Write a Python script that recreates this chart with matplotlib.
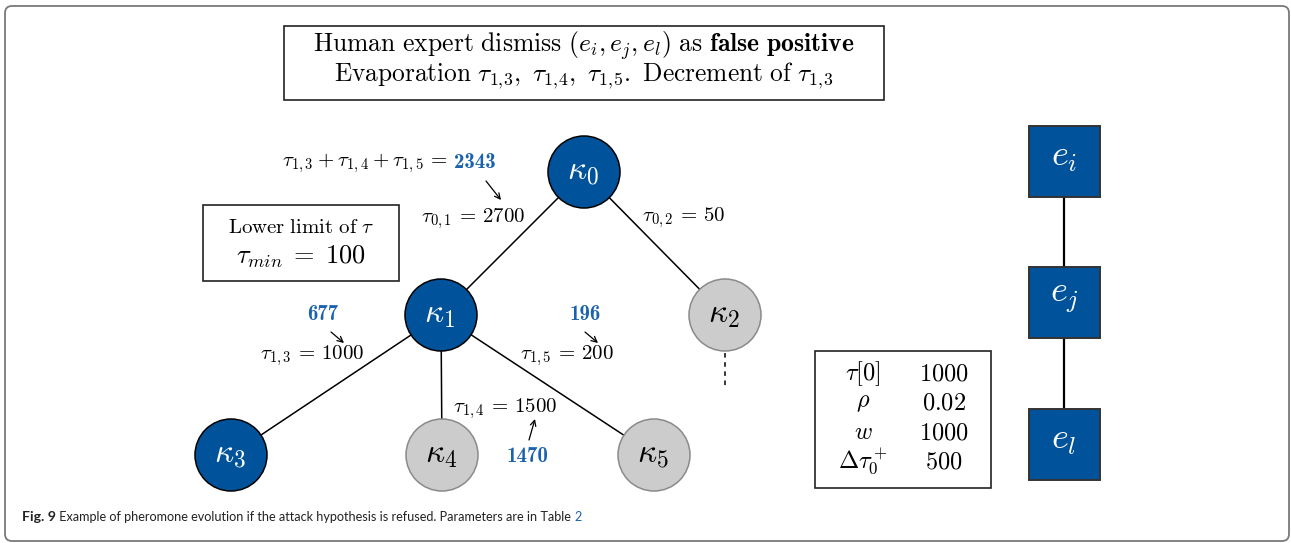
import matplotlib
matplotlib.use("Agg")
import matplotlib.pyplot as plt
from matplotlib.patches import Circle, Rectangle, FancyBboxPatch

plt.rcParams['mathtext.fontset'] = 'cm'
plt.rcParams['font.family'] = 'serif'
plt.rcParams['font.serif'] = ['cmr10', 'DejaVu Serif']

BLUE = '#00539B'
BLUE_TXT = '#1A62AE'
GRAY = '#CCCCCC'

# ---- data ----
node_names = ['k0', 'k1', 'k2', 'k3', 'k4', 'k5']
node_labels = [r'$\kappa_0$', r'$\kappa_1$', r'$\kappa_2$', r'$\kappa_3$', r'$\kappa_4$', r'$\kappa_5$']
node_active = [True, True, False, True, False, False]
edges = [('k0', 'k1'), ('k0', 'k2'), ('k1', 'k3'), ('k1', 'k4'), ('k1', 'k5')]
edge_names = [r'\tau_{0,1}', r'\tau_{0,2}', r'\tau_{1,3}', r'\tau_{1,4}', r'\tau_{1,5}']
edge_values = ['2700', '50', '1000', '1500', '200']
new_values = ['2343', '677', '1470', '196']
param_names = [r'$\tau[0]$', r'$\rho$', r'$w$', r'$\Delta\tau_0^+$']
param_values = ['1000', '0.02', '1000', '500']
event_labels = [r'$e_i$', r'$e_j$', r'$e_l$']

# ---- layout (pixels) ----
node_pos = {'k0': (584, 172), 'k1': (441, 315), 'k2': (725, 315),
            'k3': (231, 455), 'k4': (442, 455), 'k5': (654, 455)}
R = 36
edge_label_pos = [(473, 219), (684, 218), (312, 356), (505, 409), (567, 356)]
FS_EDGE = 15

fig = plt.figure(figsize=(12.91, 5.43), dpi=100)
ax = fig.add_axes([0, 0, 1, 1])
ax.set_xlim(0, 1291)
ax.set_ylim(543, 0)
ax.axis('off')

# outer frame
ax.add_patch(FancyBboxPatch((5, 6), 1284, 535, boxstyle='round,pad=0,rounding_size=7',
                            fill=False, ec='#7a7a7a', lw=1.3))

# title box
ax.add_patch(Rectangle((284, 26), 600, 74, fill=False, ec='#222', lw=1.2))
ax.text(584, 46, r'$\mathrm{Human\ expert\ dismiss\ }(e_i, e_j, e_l)\mathrm{\ as\ }\mathbf{false\ positive}$',
        ha='center', va='center', fontsize=18.5)
ax.text(584, 76, r'$\mathrm{Evaporation\ }\tau_{1,\!3},\ \tau_{1,\!4},\ \tau_{1,\!5}.\ \mathrm{Decrement\ of\ }\tau_{1,\!3}$',
        ha='center', va='center', fontsize=18.3)

# edges
for (a, b), nm, val, lp in zip(edges, edge_names, edge_values, edge_label_pos):
    xa, ya = node_pos[a]
    xb, yb = node_pos[b]
    ax.plot([xa, xb], [ya, yb], color='black', lw=1.1, zorder=1)
    ax.text(lp[0], lp[1], '$' + nm + r'\,=\,' + val + '$', ha='center', va='center',
            fontsize=FS_EDGE, zorder=3)

# dashed continuation from k2
x2, y2 = node_pos['k2']
ax.plot([x2, x2], [y2 + R + 2, 388], color='black', lw=1.1, ls=(0, (3, 3)), zorder=1)

# nodes
for name, lab, act in zip(node_names, node_labels, node_active):
    x, y = node_pos[name]
    if act:
        ax.add_patch(Circle((x, y), R, fc=BLUE, ec='black', lw=1.1, zorder=2))
        col = 'white'
    else:
        ax.add_patch(Circle((x, y), R, fc=GRAY, ec='#8a8a8a', lw=1.1, zorder=2))
        col = 'black'
    ax.text(x - 1, y, lab, ha='center', va='center', fontsize=24, color=col, zorder=3)

# sum annotation
ax.text(448, 163, r'$\tau_{1,3} + \tau_{1,4} + \tau_{1,5}\,=\,$', ha='right', va='center', fontsize=FS_EDGE)
bold = dict(family='cmb10', fontsize=FS_EDGE, color=BLUE_TXT, va='center')
ax.text(454, 163, new_values[0], ha='left', **bold)
arrow = dict(arrowstyle='->', lw=0.9, color='black', shrinkA=0, shrinkB=0)
ax.annotate('', xy=(501, 200), xytext=(486, 181), arrowprops=arrow)

# updated values
ax.text(323, 314, new_values[1], ha='center', **bold)
ax.annotate('', xy=(344, 343), xytext=(331, 332), arrowprops=arrow)
ax.text(527, 456, new_values[2], ha='center', **bold)
ax.annotate('', xy=(535, 419), xytext=(529, 440), arrowprops=arrow)
ax.text(585, 314, new_values[3], ha='center', **bold)
ax.annotate('', xy=(598, 343), xytext=(585, 332), arrowprops=arrow)

# lower limit box
ax.add_patch(Rectangle((203, 205), 196, 76, fill=False, ec='#222', lw=1.2))
ax.text(301, 228, r'$\mathrm{Lower\ limit\ of\ }\tau$', ha='center', va='center', fontsize=15)
ax.text(301, 257, r'$\tau_{min}\;=\;100$', ha='center', va='center', fontsize=19)

# parameter box
ax.add_patch(Rectangle((815, 351), 176, 137, fill=False, ec='#222', lw=1.2))
row_y = [374, 403, 433, 462]
for nm, val, yy in zip(param_names, param_values, row_y):
    ax.text(863, yy, nm, ha='center', va='center', fontsize=17.5)
    ax.text(944, yy, r'$\mathrm{' + val + '}$', ha='center', va='center', fontsize=17.5)

# event squares
ev_y = [161.5, 302.5, 444.5]
S = 71
ax.plot([1064, 1064], [ev_y[0], ev_y[-1]], color='black', lw=1.6, zorder=1)
for lab, yy in zip(event_labels, ev_y):
    ax.add_patch(Rectangle((1064 - S / 2, yy - S / 2), S, S, fc=BLUE, ec='#333', lw=1.4, zorder=2))
    ax.text(1064, yy - 3, lab, ha='center', va='center', fontsize=26, color='white', zorder=3)

# caption
cap = dict(fontsize=9.1, family='Lato', color='#222')
t1 = ax.text(22, 517, 'Fig. 9', ha='left', va='center', fontweight='bold',
             fontsize=10.2, family='Lato', color='#222')
t2 = ax.annotate(' Example of pheromone evolution if the attack hypothesis is refused. Parameters are in Table ',
                 xy=(1, 0), xycoords=t1, va='bottom', ha='left', **cap)
cap['color'] = BLUE_TXT
ax.annotate('2', xy=(1, 0), xycoords=t2, va='bottom', ha='left', **cap)

fig.savefig('out.png', dpi=100)
